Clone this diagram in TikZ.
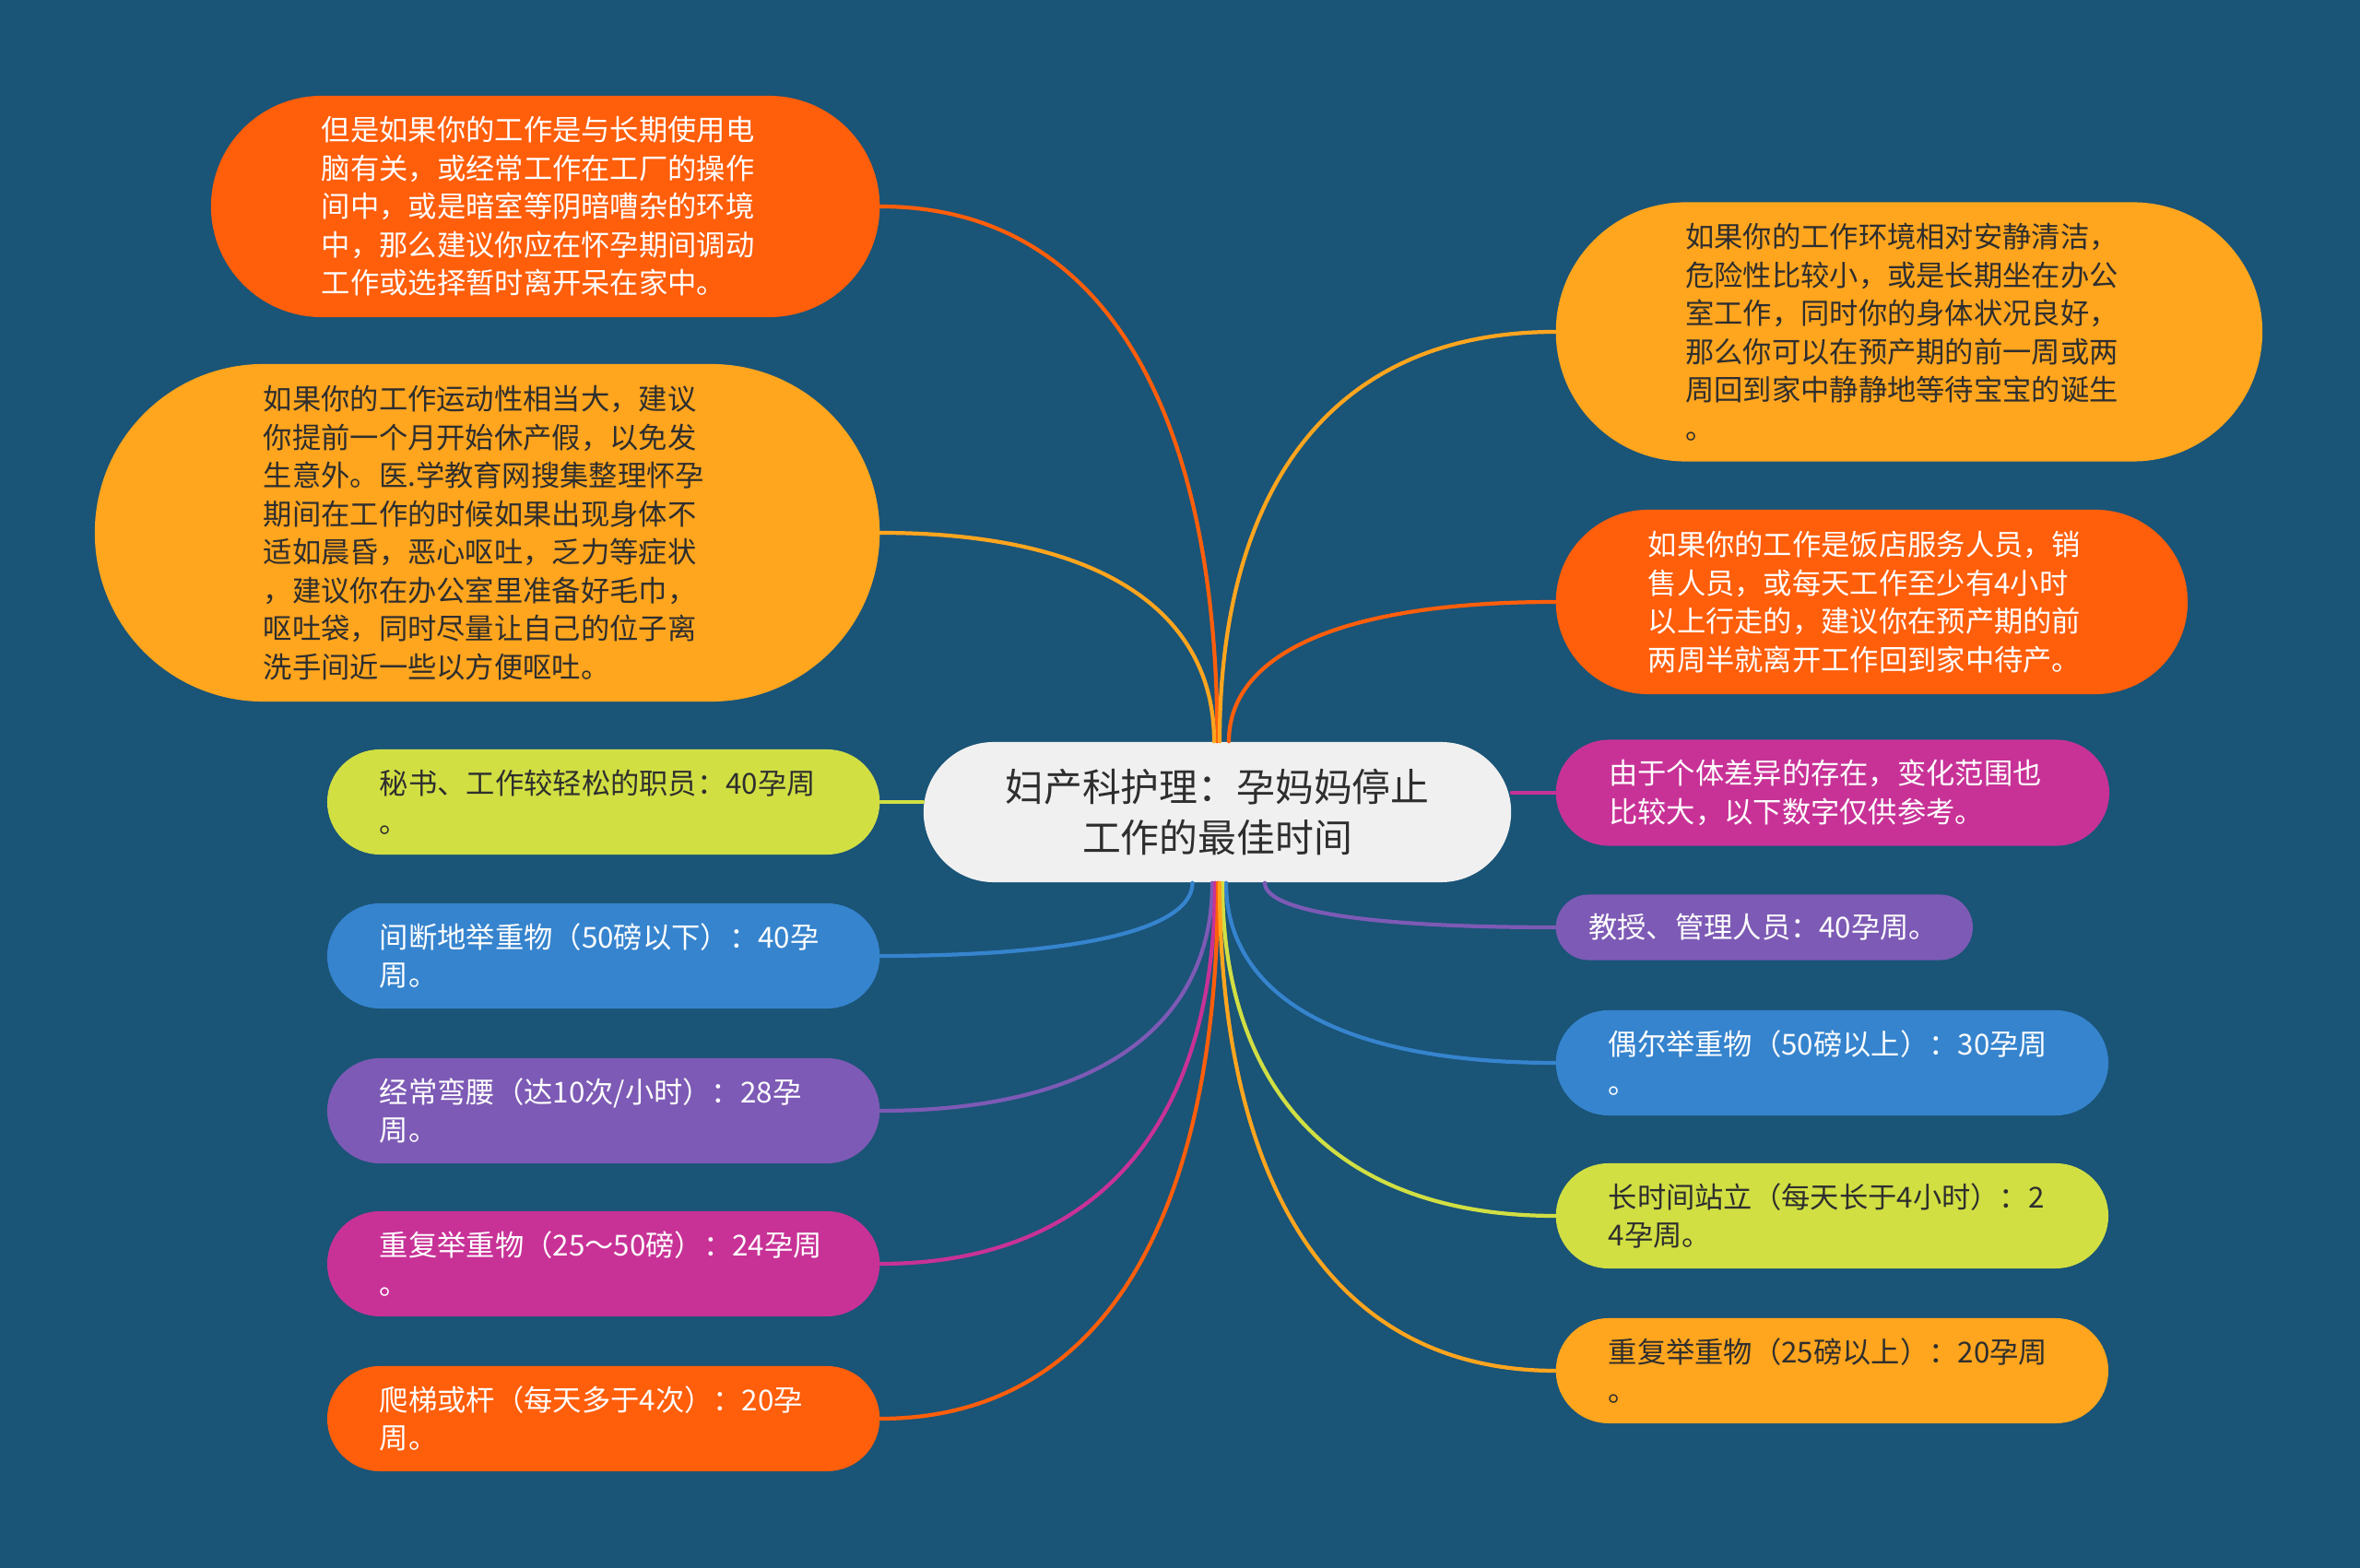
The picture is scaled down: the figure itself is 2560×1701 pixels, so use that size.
\documentclass[tikz,border=0pt]{standalone}
\usepackage{fontspec}
\newfontfamily\cjk{Noto Sans CJK SC}
\usetikzlibrary{positioning}

\definecolor{bgblue}{RGB}{26,84,119}
\definecolor{orng}{RGB}{255,94,11}
\definecolor{ambr}{RGB}{255,165,30}
\definecolor{lime}{RGB}{209,223,67}
\definecolor{skyb}{RGB}{54,132,206}
\definecolor{purp}{RGB}{125,90,181}
\definecolor{mgnt}{RGB}{200,50,151}
\definecolor{pale}{RGB}{240,240,240}
\definecolor{ink}{RGB}{46,46,46}

\tikzset{
  pill/.style={rectangle, rounded corners={#1/2}, minimum height=#1,
    inner xsep={#1/2}, inner ysep=0pt, text width=4.85cm, align=left,
    font=\cjk\fontsize{8.9pt}{11.8pt}\selectfont},
  root/.style={rectangle, fill=pale, text=ink, rounded corners=0.76cm,
    minimum width=6.37cm, minimum height=1.52cm, inner sep=0pt, align=center,
    font=\cjk\fontsize{11.9pt}{15.8pt}\selectfont},
  link/.style={line width=1.2pt, line cap=round}
}

\begin{document}
\begin{tikzpicture}[x=0.01cm, y=-0.01cm]
  \fill[bgblue] (0,0) rectangle (2560,1701);

  \node[root] (ctr) at (1320.5,881) {妇产科护理：孕妈妈停止\\工作的最佳时间};

  % left side
  \node[pill=2.4cm, fill=orng, text=white, anchor=east] (l1) at (955,224)
    {但是如果你的工作是与长期使用电\\脑有关，或经常工作在工厂的操作\\间中，或是暗室等阴暗嘈杂的环境\\中，那么建议你应在怀孕期间调动\\工作或选择暂时离开呆在家中。};
  \node[pill=3.66cm, fill=ambr, text=ink, anchor=east] (l2) at (955,578)
    {如果你的工作运动性相当大，建议\\你提前一个月开始休产假，以免发\\生意外。医.学教育网搜集整理怀孕\\期间在工作的时候如果出现身体不\\适如晨昏，恶心呕吐，乏力等症状\\，建议你在办公室里准备好毛巾，\\呕吐袋，同时尽量让自己的位子离\\洗手间近一些以方便呕吐。};
  \node[pill=1.14cm, fill=lime, text=ink, anchor=east] (l3) at (955,870)
    {秘书、工作较轻松的职员：40孕周\\。};
  \node[pill=1.14cm, fill=skyb, text=white, anchor=east] (l4) at (955,1037)
    {间断地举重物（50磅以下）：40孕\\周。};
  \node[pill=1.14cm, fill=purp, text=white, anchor=east] (l5) at (955,1205)
    {经常弯腰（达10次/小时）：28孕\\周。};
  \node[pill=1.14cm, fill=mgnt, text=white, anchor=east] (l6) at (955,1371)
    {重复举重物（25～50磅）：24孕周\\。};
  \node[pill=1.14cm, fill=orng, text=white, anchor=east] (l7) at (955,1539)
    {爬梯或杆（每天多于4次）：20孕\\周。};

  % right side
  \node[pill=2.81cm, fill=ambr, text=ink, anchor=west] (r1) at (1687,360)
    {如果你的工作环境相对安静清洁，\\危险性比较小，或是长期坐在办公\\室工作，同时你的身体状况良好，\\那么你可以在预产期的前一周或两\\周回到家中静静地等待宝宝的诞生\\。};
  \node[pill=2.0cm, fill=orng, text=white, anchor=west] (r2) at (1687,653)
    {如果你的工作是饭店服务人员，销\\售人员，或每天工作至少有4小时\\以上行走的，建议你在预产期的前\\两周半就离开工作回到家中待产。};
  \node[pill=1.15cm, fill=mgnt, text=white, anchor=west] (r3) at (1687,860)
    {由于个体差异的存在，变化范围也\\比较大，以下数字仅供参考。};
  \node[pill=0.71cm, text width=3.81cm, fill=purp, text=white, anchor=west] (r4) at (1687,1006)
    {教授、管理人员：40孕周。};
  \node[pill=1.14cm, fill=skyb, text=white, anchor=west] (r5) at (1687,1153)
    {偶尔举重物（50磅以上）：30孕周\\。};
  \node[pill=1.14cm, fill=lime, text=ink, anchor=west] (r6) at (1687,1319)
    {长时间站立（每天长于4小时）：2\\4孕周。};
  \node[pill=1.14cm, fill=ambr, text=ink, anchor=west] (r7) at (1687,1487)
    {重复举重物（25磅以上）：20孕周\\。};

  % connectors
  \draw[link, orng] (ctr.north) .. controls +(0,-349) and +(248,0) .. (l1.east);
  \draw[link, ambr] ([xshift=-0.035cm]ctr.north) .. controls +(0,-136) and +(246,0) .. (l2.east);
  \draw[link, lime] (l3.east -| ctr.west) -- (l3.east);
  \draw[link, skyb] ([xshift=-0.27cm]ctr.south) .. controls +(0,47) and +(230,0) .. (l4.east);
  \draw[link, purp] ([xshift=-0.055cm]ctr.south) .. controls +(0,148) and +(245,0) .. (l5.east);
  \draw[link, mgnt] ([xshift=-0.025cm]ctr.south) .. controls +(0,248) and +(247,0) .. (l6.east);
  \draw[link, orng] ([xshift=0.005cm]ctr.south) .. controls +(0,349) and +(249,0) .. (l7.east);
  \draw[link, ambr] ([xshift=0.025cm]ctr.north) .. controls +(0,-267) and +(-248,0) .. (r1.west);
  \draw[link, orng] ([xshift=0.125cm]ctr.north) .. controls +(0,-91) and +(-241,0) .. (r2.west);
  \draw[link, mgnt] (r3.west -| ctr.east) -- (r3.west);
  \draw[link, purp] ([xshift=0.515cm]ctr.south) .. controls +(0,29) and +(-214,0) .. (r4.west);
  \draw[link, skyb] ([xshift=0.095cm]ctr.south) .. controls +(0,117) and +(-243,0) .. (r5.west);
  \draw[link, lime] ([xshift=0.055cm]ctr.south) .. controls +(0,217) and +(-245,0) .. (r6.west);
  \draw[link, ambr] ([xshift=0.025cm]ctr.south) .. controls +(0,317) and +(-248,0) .. (r7.west);
\end{tikzpicture}
\end{document}
